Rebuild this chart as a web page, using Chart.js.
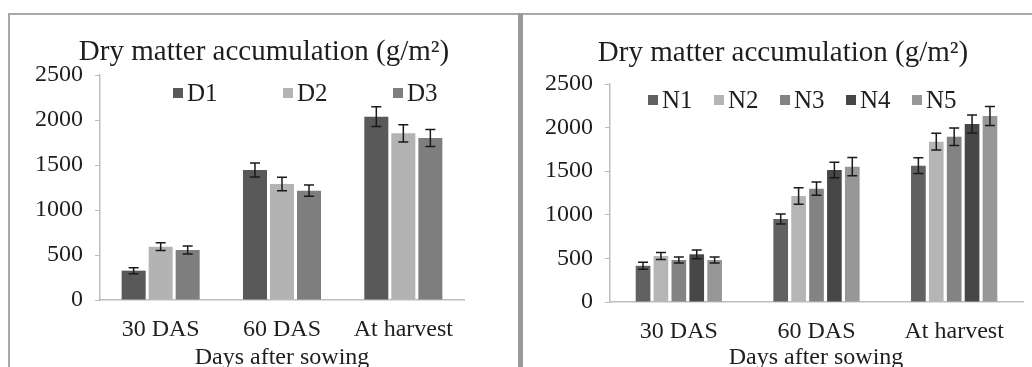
<!DOCTYPE html>
<html>
<head>
<meta charset="utf-8">
<script src="https://cdn.jsdelivr.net/npm/chart.js@4.4.1/dist/chart.umd.min.js"></script>
<style>
  body { margin: 0; background: #fff; width: 1032px; height: 367px; overflow: hidden; position: relative; }
  .frame-top { position: absolute; left: 8px; top: 13px; width: 1024px; height: 2px; background: #a8a8a8; }
  .frame-left { position: absolute; left: 8px; top: 13px; width: 2px; height: 354px; background: #a8a8a8; }
  .divider { position: absolute; left: 518px; top: 13px; width: 5px; height: 354px; background: #9a9a9a; }
  canvas { position: absolute; top: 15px; }
  #left { left: 11px; }
  #right { left: 523px; }
</style>
</head>
<body>
<div class="frame-top"></div>
<div class="frame-left"></div>
<div class="divider"></div>
<canvas id="left" width="507" height="352"></canvas>
<canvas id="right" width="509" height="352"></canvas>
<script>
// data
const categories = ['30 DAS', '60 DAS', 'At harvest'];
const yTicks = [0, 500, 1000, 1500, 2000, 2500];

const dLabels = ['D1', 'D2', 'D3'];
const dValues = [
  [326, 1444, 2037],
  [593, 1289, 1852],
  [556, 1215, 1800]
];
const dErrors = [
  [33, 78, 109],
  [44, 74, 96],
  [44, 63, 94]
];

const nLabels = ['N1', 'N2', 'N3', 'N4', 'N5'];
const nValues = [
  [415, 952, 1563],
  [527, 1216, 1839],
  [482, 1300, 1896],
  [547, 1514, 2041],
  [482, 1552, 2133]
];
const nErrors = [
  [40, 57, 90],
  [40, 95, 95],
  [35, 75, 100],
  [50, 88, 103],
  [35, 105, 109]
];

const dColors = ['#595959', '#b3b3b3', '#7e7e7e'];
const nColors = ['#616161', '#b5b5b5', '#838383', '#474747', '#979797'];

const FONT = "'Liberation Serif', 'Times New Roman', serif";
const TEXT = '#1e1e1e';

// error bars drawn through the y scale
const errorBars = {
  id: 'errorBars',
  afterDatasetsDraw(chart) {
    const ctx = chart.ctx;
    const y = chart.scales.y;
    ctx.save();
    ctx.strokeStyle = '#1a1a1a';
    ctx.lineWidth = 1.5;
    chart.data.datasets.forEach((ds, i) => {
      const meta = chart.getDatasetMeta(i);
      meta.data.forEach((bar, j) => {
        const v = ds.data[j], e = ds.errors[j];
        const y1 = y.getPixelForValue(v + e), y2 = y.getPixelForValue(v - e);
        const x = bar.x, c = 5;
        ctx.beginPath();
        ctx.moveTo(x, y1); ctx.lineTo(x, y2);
        ctx.moveTo(x - c, y1); ctx.lineTo(x + c, y1);
        ctx.moveTo(x - c, y2); ctx.lineTo(x + c, y2);
        ctx.stroke();
      });
    });
    ctx.restore();
  }
};

// title, legend inside the plot and axis title
const decorations = {
  id: 'decorations',
  afterDraw(chart, args, opts) {
    const ctx = chart.ctx;
    ctx.save();
    ctx.fillStyle = TEXT;
    ctx.font = '29px ' + FONT;
    ctx.textAlign = 'center';
    ctx.textBaseline = 'alphabetic';
    ctx.fillText('Dry matter accumulation (g/m²)', opts.titleX, opts.titleY);

    ctx.font = '24px ' + FONT;
    ctx.textBaseline = 'middle';
    ctx.fillText('Days after sowing', opts.axisX, opts.axisY);

    ctx.font = '25px ' + FONT;
    ctx.textAlign = 'left';
    chart.data.datasets.forEach((ds, i) => {
      const bx = opts.legendX + i * opts.legendGap;
      ctx.fillStyle = ds.backgroundColor;
      ctx.fillRect(bx, opts.legendY - 5, 10, 10);
      ctx.fillStyle = TEXT;
      ctx.fillText(ds.label, bx + 14, opts.legendY + 1);
    });
    ctx.restore();
  }
};

function makeChart(id, labels, values, errors, colors, cfg) {
  const datasets = labels.map((l, i) => ({
    label: l,
    data: values[i],
    errors: errors[i],
    backgroundColor: colors[i],
    borderWidth: 0,
    categoryPercentage: cfg.catPct,
    barPercentage: cfg.barPct
  }));
  return new Chart(document.getElementById(id), {
    type: 'bar',
    data: { labels: categories, datasets: datasets },
    options: {
      responsive: false,
      animation: false,
      layout: { padding: { left: 0, right: cfg.padRight, top: cfg.padTop, bottom: 0 } },
      plugins: {
        legend: { display: false },
        tooltip: { enabled: false },
        decorations: cfg.deco
      },
      scales: {
        x: {
          grid: { display: false },
          border: { display: true, color: '#bdbdbd', width: 1.5 },
          ticks: { color: TEXT, font: { family: FONT, size: 24 }, padding: 7, maxRotation: 0 },
          afterFit(s) { s.height = cfg.xHeight; }
        },
        y: {
          min: 0, max: 2500,
          afterBuildTicks(s) { s.ticks = yTicks.map(v => ({ value: v })); },
          grid: { drawOnChartArea: false, drawTicks: true, tickLength: 5, color: '#bdbdbd' },
          border: { display: true, color: '#bdbdbd', width: 1.5 },
          ticks: {
            color: TEXT, font: { family: FONT, size: 24 }, padding: 12,
            callback: v => String(v)
          },
          afterFit(s) { s.width = cfg.yWidth; }
        }
      }
    },
    plugins: [errorBars, decorations]
  });
}

makeChart('left', dLabels, dValues, dErrors, dColors, {
  catPct: 0.668, barPct: 0.889,
  padRight: 54, padTop: 60, xHeight: 67, yWidth: 89,
  deco: { titleX: 253, titleY: 45, axisX: 271, axisY: 343, legendX: 162, legendGap: 110, legendY: 78 }
});

makeChart('right', nLabels, nValues, nErrors, nColors, {
  catPct: 0.65, barPct: 0.82,
  padRight: 9, padTop: 69, xHeight: 65, yWidth: 87,
  deco: { titleX: 260, titleY: 46, axisX: 293, axisY: 343, legendX: 125, legendGap: 66, legendY: 85 }
});
</script>
</body>
</html>
